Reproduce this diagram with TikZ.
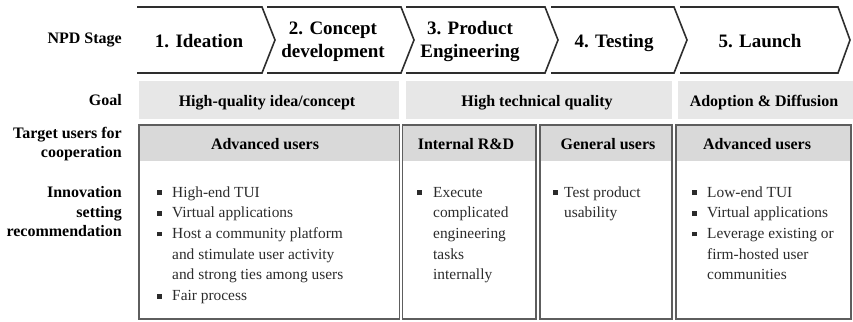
\documentclass[tikz,border=0pt]{standalone}
\usepackage{fontspec}
\setmainfont{Liberation Serif}
\usetikzlibrary{positioning}

\definecolor{goalgray}{HTML}{E7E7E7}
\definecolor{headgray}{HTML}{D9D9D9}
\definecolor{boxline}{HTML}{5E5E5E}
\definecolor{chevline}{HTML}{2E2E2E}
\definecolor{bodytext}{HTML}{2B2B2B}

\newcommand{\sqbul}{\raisebox{2pt}{\rule{4.6pt}{4.6pt}}}
\newcommand{\bullist}[2]{\begin{tabular}[t]{@{}l@{\hspace{#1}}l@{}}#2\end{tabular}}

\begin{document}
\begin{tikzpicture}[x=1pt, y=-1pt,
    rowlabel/.style={anchor=east, align=right, inner sep=0pt, font=\fontsize{16}{19.5}\selectfont\bfseries},
    stagetext/.style={align=center, inner sep=0pt, font=\fontsize{19}{23}\selectfont\bfseries},
    chevron/.style={draw=chevline, line width=1.6pt},
    boldtext/.style={anchor=base, inner sep=0pt, font=\fontsize{16}{19.5}\selectfont\bfseries},
    userbox/.style={draw=boxline, line width=1.5pt},
    bullets/.style={anchor=base west, inner sep=0pt, text=bodytext, font=\fontsize{15.4}{20.7}\selectfont}
]
\useasboundingbox (0,0) rectangle (853,321);

    % row labels
    \node[rowlabel] (lstage) at (122,40) {NPD Stage};
    \node[rowlabel] (lgoal) at (122,100) {Goal};
    \node[rowlabel] (lusers) at (122,144) {Target users for\\cooperation};
    \node[rowlabel] (lsetting) at (122,212) {Innovation\\setting\\recommendation};

    % stage chevrons
    \draw[chevron] (137,7) -- (262,7) -- (275,40) -- (262,73) -- (137,73);
    \draw[chevron] (267,7) -- (401,7) -- (414,40) -- (401,73) -- (267,73);
    \draw[chevron] (406,7) -- (545,7) -- (558,40) -- (545,73) -- (406,73);
    \draw[chevron] (551,7) -- (674,7) -- (687,40) -- (674,73) -- (551,73);
    \draw[chevron] (680,7) -- (838,7) -- (850,40) -- (838,73) -- (680,73);
    \node[stagetext, anchor=base] (ideation) at (199,48) {1. Ideation};
    \node[stagetext] (concept) at (333,42) {2. Concept\\development};
    \node[stagetext] (engineering) at (470,42) {3. Product\\Engineering};
    \node[stagetext, anchor=base] (testing) at (614,48) {4. Testing};
    \node[stagetext, anchor=base] (launch) at (760,48) {5. Launch};

    % goal bars
    \fill[goalgray] (139,81) rectangle (399,119);
    \fill[goalgray] (406,81) rectangle (672,119);
    \fill[goalgray] (678,81) rectangle (853,119);
    \node[boldtext] (goalidea) at (267,106) {High-quality idea/concept};
    \node[boldtext] (goaltech) at (537,106) {High technical quality};
    \node[boldtext] (goaladopt) at (764,106) {Adoption \& Diffusion};

    % target user boxes
    \fill[headgray] (139,125) rectangle (399.5,161);
    \fill[headgray] (402.5,125) rectangle (536,161);
    \fill[headgray] (540,125) rectangle (672,161);
    \fill[headgray] (676,125) rectangle (851,161);
    \draw[userbox] (139,125) rectangle (399.5,319);
    \draw[userbox] (402.5,125) rectangle (536,319);
    \draw[userbox] (540,125) rectangle (672,319);
    \draw[userbox] (676,125) rectangle (851,319);
    \node[boldtext] (advfirst) at (265,149.5) {Advanced users};
    \node[boldtext] (internal) at (466,149.5) {Internal R\&D};
    \node[boldtext] (general) at (608,149.5) {General users};
    \node[boldtext] (advlast) at (757,149.5) {Advanced users};

    % innovation setting bullets
    \node[bullets] (setidea) at (157,197) {\bullist{10.4pt}{%
        \sqbul & High-end TUI\\
        \sqbul & Virtual applications\\
        \sqbul & Host a community platform\\
               & and stimulate user activity\\
               & and strong ties among users\\
        \sqbul & Fair process}};
    \node[bullets] (setrnd) at (417,197) {\bullist{11.4pt}{%
        \sqbul & Execute\\
               & complicated\\
               & engineering\\
               & tasks\\
               & internally}};
    \node[bullets] (settest) at (553,197) {\bullist{6.4pt}{%
        \sqbul & Test product\\
               & usability}};
    \node[bullets] (setlaunch) at (692,197) {\bullist{10.4pt}{%
        \sqbul & Low-end TUI\\
        \sqbul & Virtual applications\\
        \sqbul & Leverage existing or\\
               & firm-hosted user\\
               & communities}};

\end{tikzpicture}
\end{document}
